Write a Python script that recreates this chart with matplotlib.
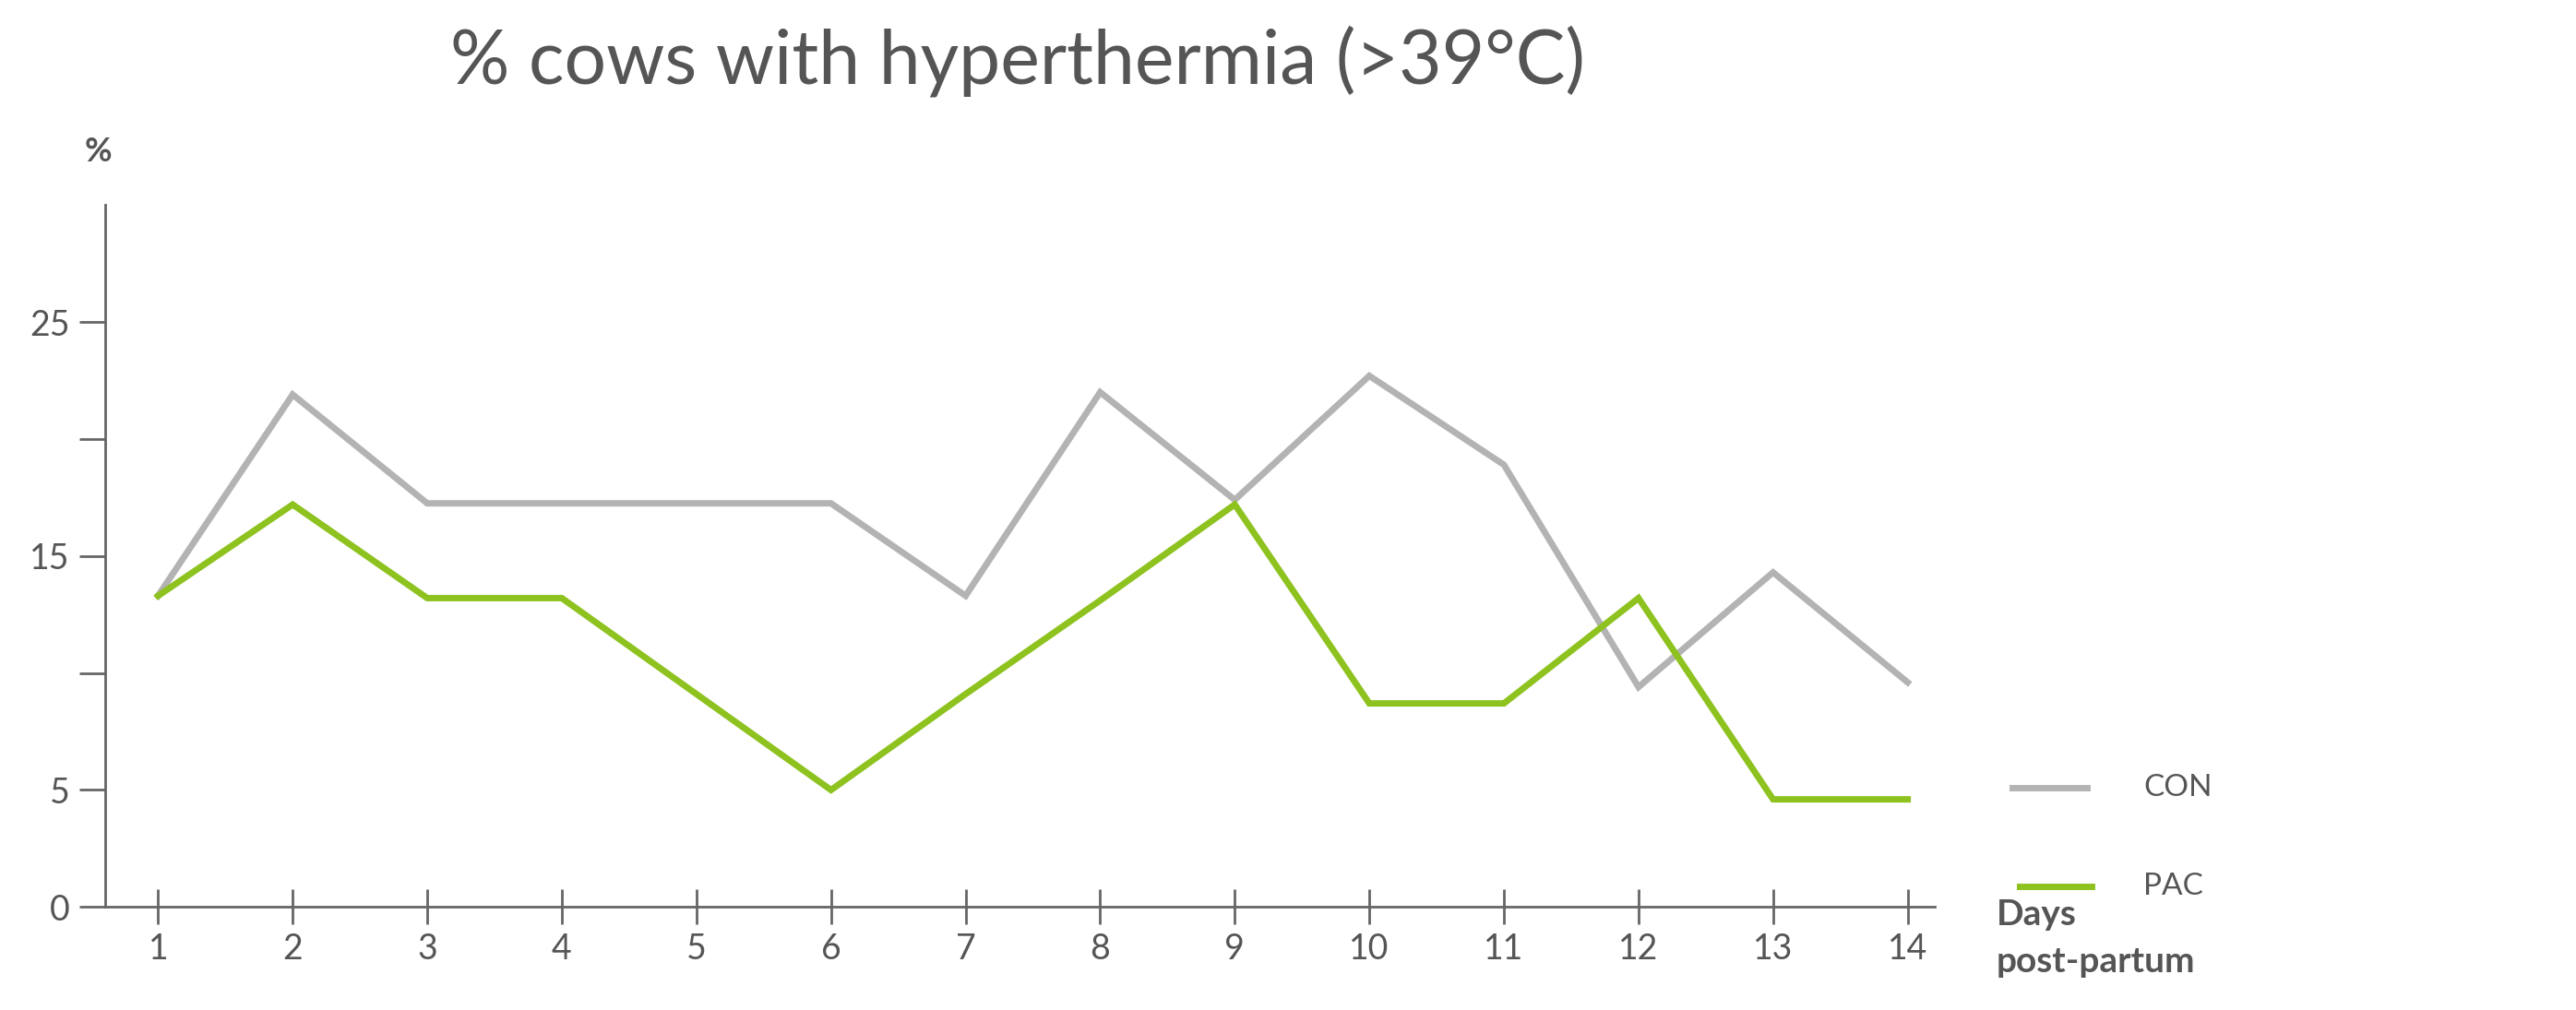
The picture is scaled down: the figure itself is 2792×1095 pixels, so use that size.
import matplotlib
matplotlib.use("Agg")
import matplotlib.pyplot as plt

days = list(range(1, 15))
con = [13.3, 21.9, 17.25, 17.25, 17.25, 17.25, 13.3, 22.0, 17.4, 22.7, 18.9, 9.4, 14.3, 9.6]
pac = [13.3, 17.2, 13.2, 13.2, 9.1, 5.0, 9.1, 13.1, 17.2, 8.7, 8.7, 13.2, 4.6, 4.6]
yticks = [0, 5, 10, 15, 20, 25]
ylabels = ["0", "5", "", "15", "", "25"]

plt.rcParams['font.family'] = ['Lato', 'DejaVu Sans']
txt = "#555555"
fig = plt.figure(figsize=(27.92, 10.95), dpi=100)
ax = fig.add_axes([0.041, 0.102, 0.71, 0.695])
ax.plot(days, con, color="#b3b3b3", lw=5, solid_joinstyle="miter")
ax.plot(days, pac, color="#8dc21f", lw=5, solid_joinstyle="miter")
ax.set_xlim(0.61, 14.2)
ax.set_ylim(0, 30)
ax.set_xticks(days)
ax.set_yticks(yticks)
ax.set_yticklabels(ylabels)
for s in ["top", "right"]:
    ax.spines[s].set_visible(False)
for s in ["left", "bottom"]:
    ax.spines[s].set_color("#666666")
    ax.spines[s].set_linewidth(2)
ax.tick_params(axis="x", direction="inout", length=28, width=2, color="#666666",
               labelsize=27, labelcolor=txt, pad=6)
ax.tick_params(axis="y", direction="out", length=20, width=2, color="#666666",
               labelsize=27, labelcolor=txt, pad=8)
fig.text(0.395, 0.94, "% cows with hyperthermia (>39°C)", ha="center", va="center",
         fontsize=58, color=txt)
fig.text(0.038, 0.85, "%", ha="center", va="center", fontsize=26, color=txt, weight="bold")
fig.text(0.775, 0.071, "Days\npost-partum", ha="left", va="center", fontsize=28,
         color=txt, weight="bold", linespacing=1.55)
fig.lines.append(plt.Line2D([0.781, 0.81], [0.22, 0.22], transform=fig.transFigure,
                            color="#b3b3b3", lw=5))
fig.lines.append(plt.Line2D([0.784, 0.812], [0.122, 0.122], transform=fig.transFigure,
                            color="#8dc21f", lw=5))
fig.text(0.832, 0.22, "CON", va="center", fontsize=24, color=txt)
fig.text(0.832, 0.122, "PAC", va="center", fontsize=24, color=txt)
fig.savefig("out.png", dpi=100, facecolor="white")
